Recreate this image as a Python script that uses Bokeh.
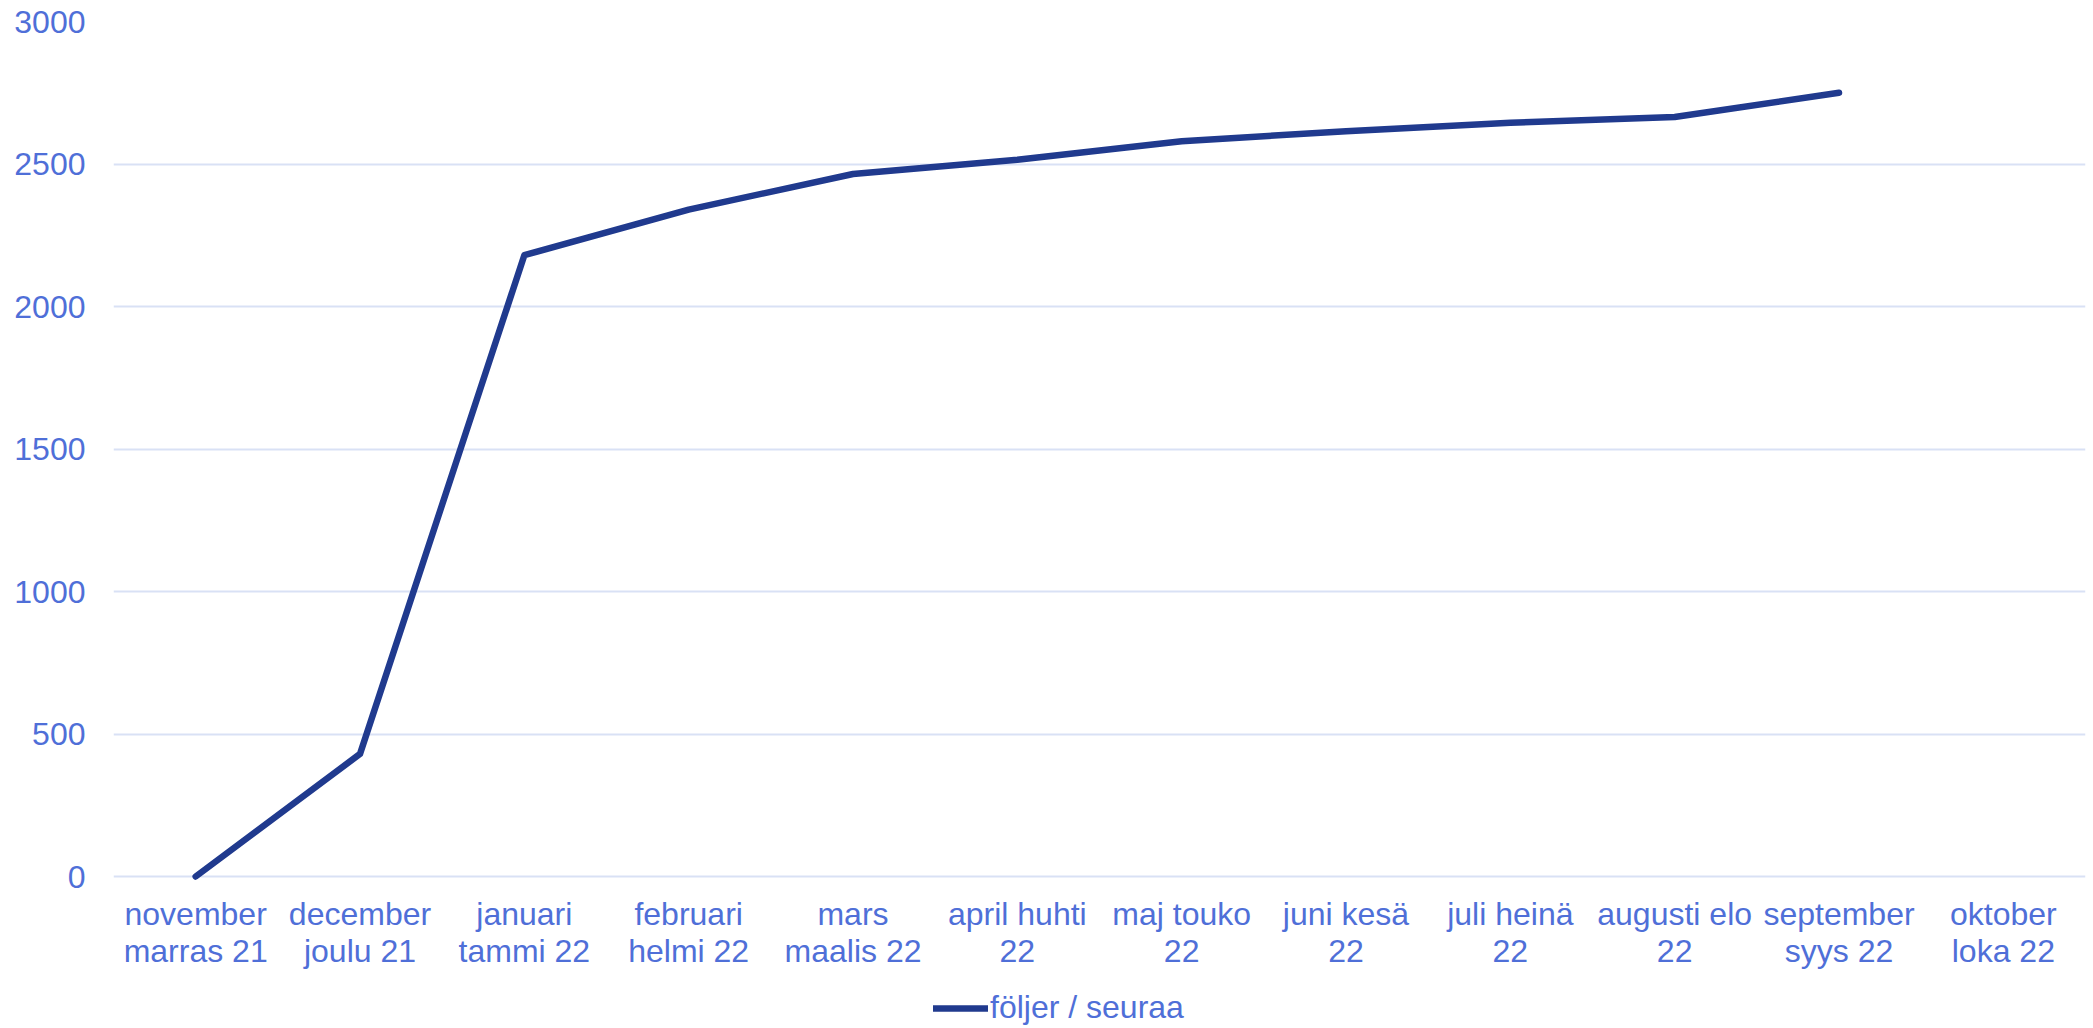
from bokeh.plotting import figure
from bokeh.models import Range1d, FixedTicker, Legend, LegendItem, ColumnDataSource
from bokeh.embed import file_html
from bokeh.resources import INLINE

months = ["november\nmarras 21", "december\njoulu 21", "januari\ntammi 22", "februari\nhelmi 22",
          "mars\nmaalis 22", "april huhti\n22", "maj touko\n22", "juni kesä\n22",
          "juli heinä\n22", "augusti elo\n22", "september\nsyys 22", "oktober\nloka 22"]
followers = [0, 430, 2180, 2340, 2465, 2515, 2580, 2615, 2645, 2665, 2750]
y_ticks = [0, 500, 1000, 1500, 2000, 2500, 3000]
series_name = "följer / seuraa"

TEXT = "#4F6FD8"
LINE = "#203A8E"
GRID = "#D9E1F5"
FONT = "Liberation Sans"
FS = "32px"

# frame spans the full height below the top border; the x axis sits at y=0 and the
# legend sits under it, inside the frame
p = figure(frame_width=1972, frame_height=1007, output_backend="svg", toolbar_location=None,
           x_range=Range1d(-0.5, len(months) - 0.5), y_range=Range1d(-533.3, 3000),
           min_border_left=113, min_border_right=8, min_border_top=21, min_border_bottom=0)
p.outline_line_color = None
p.background_fill_color = "white"
p.border_fill_color = "white"

src = ColumnDataSource(dict(x=list(range(len(followers))), y=followers))
r = p.line("x", "y", source=src, line_color=LINE, line_width=6.5, line_cap="round", line_join="round")

# x axis
p.xaxis.fixed_location = 0
p.xaxis.ticker = FixedTicker(ticks=list(range(len(months))))
p.xaxis.major_label_overrides = {i: m for i, m in enumerate(months)}
p.xaxis.axis_line_color = None
p.xaxis.major_tick_line_color = None
p.xaxis.minor_tick_line_color = None
p.xaxis.major_tick_out = 0
p.xaxis.major_tick_in = 0
p.xaxis.minor_tick_out = 0
p.xaxis.minor_tick_in = 0
p.xaxis.major_label_text_font = FONT
p.xaxis.major_label_text_font_size = FS
p.xaxis.major_label_text_color = TEXT
p.xaxis.major_label_standoff = 19
p.xaxis.major_label_text_line_height = 1.05

# y axis
p.yaxis.ticker = FixedTicker(ticks=y_ticks)
p.yaxis.axis_line_color = None
p.yaxis.major_tick_line_color = None
p.yaxis.minor_tick_line_color = None
p.yaxis.major_tick_out = 0
p.yaxis.major_tick_in = 0
p.yaxis.major_label_text_font = FONT
p.yaxis.major_label_text_font_size = FS
p.yaxis.major_label_text_color = TEXT
p.yaxis.major_label_standoff = 28

p.xgrid.grid_line_color = None
p.ygrid.grid_line_color = GRID
p.ygrid.grid_line_width = 2

legend = Legend(items=[LegendItem(label=series_name, renderers=[r])], orientation="horizontal",
                location=(820, 2), border_line_color=None, background_fill_alpha=0,
                label_text_font=FONT, label_text_font_size=FS, label_text_color=TEXT,
                glyph_width=55, glyph_height=20, label_height=30, label_standoff=2,
                padding=0, margin=0, spacing=0)
p.add_layout(legend, "center")

open("out.html", "w").write(file_html(p, INLINE))
